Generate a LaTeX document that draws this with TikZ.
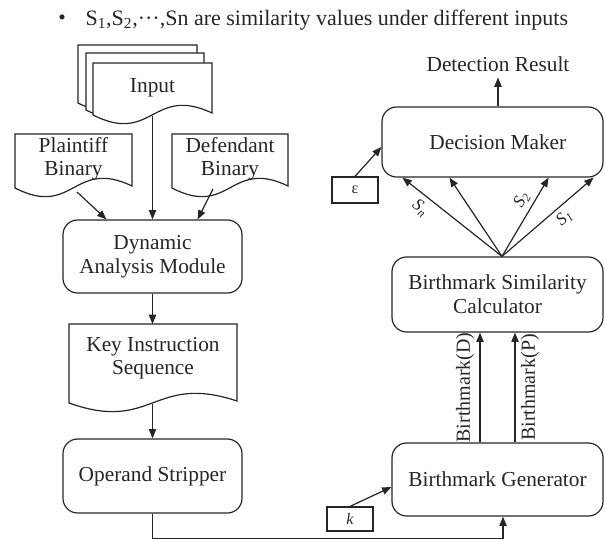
\documentclass[tikz,border=0pt]{standalone}
\usepackage{fontspec}
\setmainfont{Liberation Serif}
\usetikzlibrary{arrows.meta,calc}
\newcommand{\pu}{0.75pt}
% doc shape: left, top, right, bottom
\newcommand{\docpath}[4]{%
  \draw[docline] (#1,#4) -- (#1,#2) -- (#3,#2) -- (#3,{#4-2})
    .. controls ({(#1+#3)/2},{#4-30}) and ({(#1+#3)/2},{#4+30}) .. (#1,#4) -- cycle;}
\begin{document}
\begin{tikzpicture}[x=0.75pt,y=-0.75pt,
  line width=0.9pt, draw=black!85, text=black!85,
  >={Triangle[length=7pt,width=5.5pt]},
  docline/.style={draw=black!85, fill=white, line width=0.9pt},
  box/.style={draw, rounded corners=11pt, inner sep=0pt, align=center,
    font=\fontsize{16}{18}\selectfont},
  smallbox/.style={draw, inner sep=0pt, font=\fontsize{12}{14}\selectfont},
  doctext/.style={inner sep=0pt, align=center, font=\fontsize{16}{17.5}\selectfont},
  plain/.style={inner sep=4pt, font=\fontsize{16}{18}\selectfont},
  slabel/.style={inner sep=1pt, font=\fontsize{13}{15}\selectfont\itshape},
  bmlabel/.style={inner sep=4pt, font=\fontsize{15}{17}\selectfont}]
\useasboundingbox (0,0) rectangle (605,538);

% title
\node[plain, inner sep=0pt] (bul) at (62,20) {•};
\node[plain, inner sep=0pt, anchor=west, font=\fontsize{16.5}{18}\selectfont] (title) at (85,20)
  {S\textsubscript{1},S\textsubscript{2},···,Sn are similarity values under different inputs};

% input stack
\docpath{78}{45}{197}{103}
\docpath{86}{53}{204}{110}
\docpath{93}{63}{212}{115}
\node[doctext] (input) at (152.5,88) {Input};

% plaintiff / defendant
\docpath{15}{134}{132}{188}
\node[doctext] (plaintiff) at (73.5,158.5) {Plaintiff\\Binary};
\docpath{172}{134}{288}{188}
\node[doctext] (defendant) at (230,158.5) {Defendant\\Binary};

% key instruction sequence
\docpath{69}{324}{237}{403}
\node[doctext] (key) at (153,358) {Key Instruction\\Sequence};

\coordinate (inputout) at (152.5,116);
\coordinate (plaintiffout) at (77,192);
\coordinate (defendantout) at (213,189);
\coordinate (keyin) at (152.5,324);
\coordinate (keyout) at (152.5,404);

% boxes
\node[box, minimum width=179*\pu, minimum height=73*\pu] (dyn) at (152.5,256.5) {Dynamic\\Analysis Module};
\node[box, minimum width=179*\pu, minimum height=74*\pu] (op) at (152.5,476) {Operand Stripper};
\node[box, minimum width=221*\pu, minimum height=70*\pu] (dm) at (492.5,142) {\hspace*{8pt}Decision Maker};
\node[box, minimum width=211*\pu, minimum height=75*\pu] (calc) at (497.5,294.5) {Birthmark Similarity\\Calculator};
\node[box, minimum width=211*\pu, minimum height=73*\pu] (gen) at (497.5,479.5) {Birthmark Generator};
\node[smallbox, minimum width=46*\pu, minimum height=26*\pu] (eps) at (355,190) {ε};
\node[smallbox, minimum width=46*\pu, minimum height=24*\pu] (k) at (350,519) {\itshape k};
\node[plain] (det) at (498,64) {Detection Result};

% left connectors
\draw[->] (inputout) -- (dyn.north);
\draw[->] (plaintiffout) -- ($(dyn.north west)+(44,0)$);
\draw[->] (defendantout) -- ($(dyn.north east)+(-45,0)$);
\draw[->] (dyn.south) -- (keyin);
\draw[->] (keyout) -- (op.north);
\draw[->] (op.south) -- ++(0,24.5) -| ($(gen.south)+(5.5,0)$);

% right connectors
\draw[->] (k.north) -- ($(gen.west)+(0,7.5)$);
\draw[->] ($(gen.north)+(-17.5,0)$) -- ($(calc.south)+(-17.5,0)$)
  node[midway, sloped, above, bmlabel] {Birthmark(D)};
\draw[->] ($(gen.north)+(17.5,0)$) -- ($(calc.south)+(17.5,0)$)
  node[midway, sloped, below, bmlabel] {Birthmark(P)};

\coordinate (fan) at ($(calc.north)+(4.5,0)$);
\draw[->] (fan) -- ($(dm.south west)+(21,0)$)
  node[pos=0.74, sloped, below=3pt, slabel] {S\textsubscript{n}};
\draw[->] (fan) -- ($(dm.south west)+(68,0)$);
\draw[->] (fan) -- ($(dm.south east)+(-55,0)$)
  node[pos=0.64, sloped, above=2pt, slabel] {S\textsubscript{2}};
\draw[->] (fan) -- ($(dm.south east)+(-10,0)$)
  node[pos=0.6, sloped, below=2pt, slabel] {S\textsubscript{1}};

\draw[->] (eps.north) -- ($(dm.west)+(0,5)$);
\draw[->] (dm.north -| det.south) -- (det.south);
\end{tikzpicture}
\end{document}
